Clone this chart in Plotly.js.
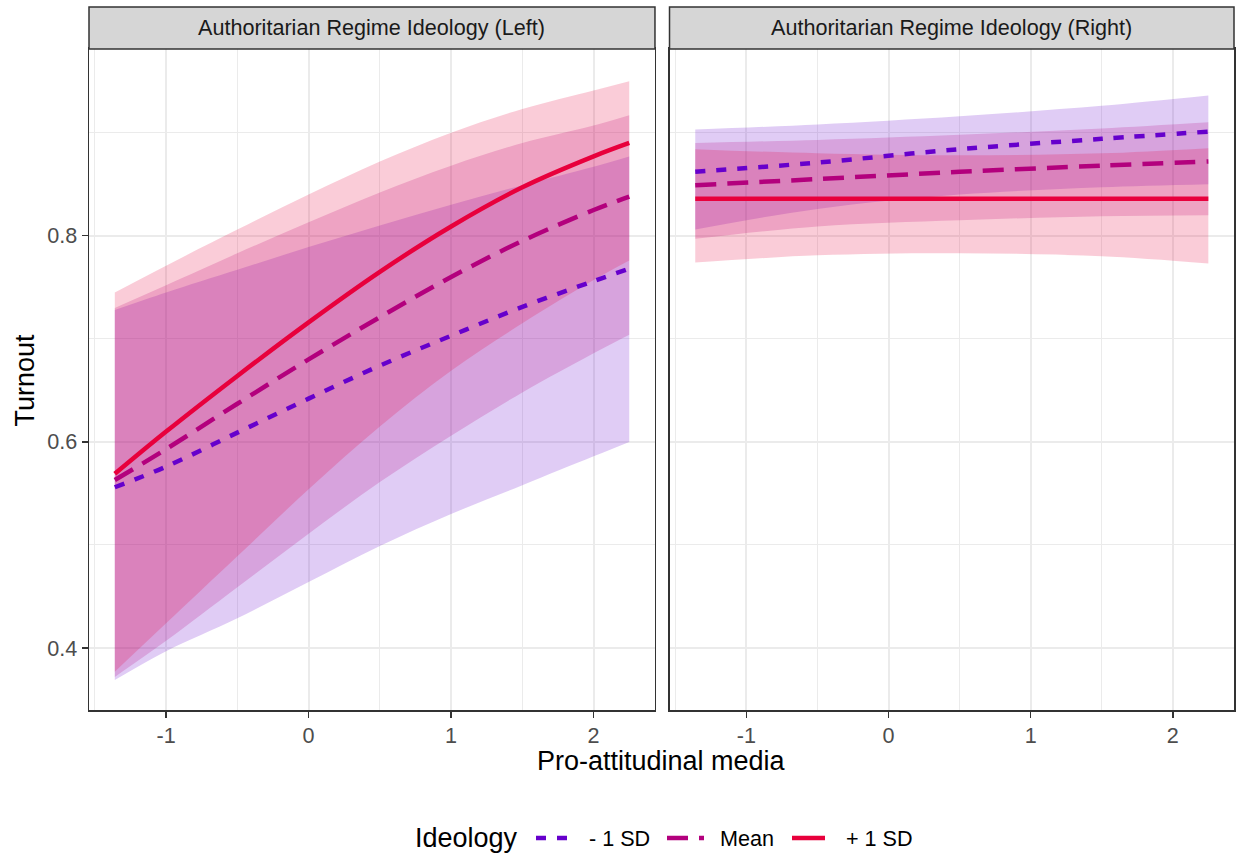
<!DOCTYPE html>
<html>
<head>
<meta charset="utf-8">
<script src="https://cdn.plot.ly/plotly-3.0.1.min.js"></script>
<style>html,body{margin:0;padding:0;background:#fff;}#chart{width:1238px;height:856px;}</style>
</head>
<body>
<div id="chart"></div>
<script>
// ---------- Data ----------
const panelTitles = ["Authoritarian Regime Ideology (Left)", "Authoritarian Regime Ideology (Right)"];
const legendTitle = "Ideology";
const groupNames = ["- 1 SD", "Mean", "+ 1 SD"];
const xTickVals = [-1, 0, 1, 2];
const yTickVals = [0.4, 0.6, 0.8];

// Left panel
const xLeft = [-1.36, -1, -0.5, 0, 0.5, 1, 1.5, 2, 2.25];
const leftLowFit   = [0.556, 0.576, 0.609, 0.642, 0.674, 0.703, 0.731, 0.756, 0.768];
const leftLowUpper = [0.728, 0.745, 0.767, 0.789, 0.810, 0.830, 0.849, 0.867, 0.877];
const leftLowLower = [0.369, 0.397, 0.429, 0.464, 0.499, 0.530, 0.558, 0.586, 0.600];
const leftMeanFit   = [0.563, 0.593, 0.637, 0.680, 0.721, 0.760, 0.795, 0.825, 0.838];
const leftMeanUpper = [0.730, 0.752, 0.783, 0.813, 0.842, 0.868, 0.890, 0.907, 0.917];
const leftMeanLower = [0.372, 0.407, 0.459, 0.511, 0.561, 0.606, 0.648, 0.686, 0.704];
const leftHighFit   = [0.569, 0.610, 0.664, 0.716, 0.765, 0.809, 0.847, 0.877, 0.890];
const leftHighUpper = [0.745, 0.771, 0.806, 0.840, 0.872, 0.900, 0.923, 0.941, 0.950];
const leftHighLower = [0.377, 0.424, 0.489, 0.554, 0.615, 0.669, 0.715, 0.757, 0.776];

// Right panel
const xRight = [-1.36, -0.5, 0.5, 1.5, 2.25];
const rightLowFit   = [0.862, 0.871, 0.884, 0.894, 0.901];
const rightLowUpper = [0.903, 0.908, 0.916, 0.926, 0.936];
const rightLowLower = [0.806, 0.826, 0.840, 0.847, 0.850];
const rightMeanFit   = [0.849, 0.855, 0.862, 0.868, 0.872];
const rightMeanUpper = [0.890, 0.893, 0.898, 0.904, 0.910];
const rightMeanLower = [0.797, 0.809, 0.815, 0.819, 0.820];
const rightHighFit   = [0.836, 0.836, 0.836, 0.836, 0.836];
const rightHighUpper = [0.884, 0.880, 0.878, 0.880, 0.885];
const rightHighLower = [0.774, 0.781, 0.783, 0.780, 0.773];

// ---------- Styles ----------
const lineColors = ["#6600CC", "#B3007D", "#E8003C"];
const fillColors = ["rgba(102,0,204,0.2)", "rgba(179,0,125,0.2)", "rgba(232,0,60,0.2)"];
const dashes = ["10px,11px", "21px,11px", "solid"];

const panels = [
  {x: xLeft, xa: "x", ya: "y",
   fit: [leftLowFit, leftMeanFit, leftHighFit],
   up: [leftLowUpper, leftMeanUpper, leftHighUpper],
   lo: [leftLowLower, leftMeanLower, leftHighLower]},
  {x: xRight, xa: "x2", ya: "y2",
   fit: [rightLowFit, rightMeanFit, rightHighFit],
   up: [rightLowUpper, rightMeanUpper, rightHighUpper],
   lo: [rightLowLower, rightMeanLower, rightHighLower]}
];

const traces = [];
panels.forEach((p) => {
  for (let g = 0; g < 3; g++) {
    traces.push({x: p.x, y: p.lo[g], xaxis: p.xa, yaxis: p.ya, type: "scatter", mode: "lines",
      line: {width: 0, shape: "spline", smoothing: 1, color: fillColors[g]}, showlegend: false, hoverinfo: "skip"});
    traces.push({x: p.x, y: p.up[g], xaxis: p.xa, yaxis: p.ya, type: "scatter", mode: "lines",
      fill: "tonexty", fillcolor: fillColors[g],
      line: {width: 0, shape: "spline", smoothing: 1, color: fillColors[g]}, showlegend: false, hoverinfo: "skip"});
  }
});
panels.forEach((p) => {
  for (let g = 0; g < 3; g++) {
    traces.push({x: p.x, y: p.fit[g], xaxis: p.xa, yaxis: p.ya, type: "scatter", mode: "lines",
      name: groupNames[g], showlegend: false,
      line: {width: 4.5, shape: "spline", smoothing: 1, color: lineColors[g], dash: dashes[g]}});
  }
});

const yRange = [0.3399, 0.9812];
const xRange = [-1.541, 2.4305];
const yTop = 0.9403;
const dL = [0, 0.4943], dR = [0.507, 1];
const FONT = "Liberation Sans, Arial, sans-serif";

// page-pixel helpers for the legend (plot area: left 89, width 1145, bottom 710, height 703)
const px2x = (px) => (px - 89) / 1145;
const py2y = (py) => (710 - py) / 703;

const axCommon = {
  range: xRange, tickvals: xTickVals, ticktext: xTickVals.map(String),
  showgrid: true, gridcolor: "#EBEBEB", gridwidth: 2,
  minor: {dtick: 0.5, tick0: 0, showgrid: true, gridcolor: "#EBEBEB", gridwidth: 1, ticks: ""},
  showline: true, mirror: true, linecolor: "#333333", linewidth: 1.5,
  ticks: "outside", ticklen: 6, tickwidth: 1.5, tickcolor: "#333333",
  tickfont: {family: FONT, size: 21.6, color: "#4D4D4D"},
  zeroline: false, fixedrange: true
};
const ayCommon = {
  range: yRange, tickvals: yTickVals, ticktext: ["0.4", "0.6", "0.8"],
  showgrid: true, gridcolor: "#EBEBEB", gridwidth: 2,
  minor: {dtick: 0.1, tick0: 0, showgrid: true, gridcolor: "#EBEBEB", gridwidth: 1, ticks: ""},
  showline: true, mirror: true, linecolor: "#333333", linewidth: 1.5,
  ticks: "outside", ticklen: 6, tickwidth: 1.5, tickcolor: "#333333",
  tickfont: {family: FONT, size: 21.6, color: "#4D4D4D"},
  zeroline: false, fixedrange: true, domain: [0, yTop]
};

const shapes = [
  {type: "rect", xref: "paper", yref: "paper", x0: dL[0], x1: dL[1], y0: yTop, y1: 1,
   fillcolor: "#D6D6D6", line: {color: "#333333", width: 1.5}},
  {type: "rect", xref: "paper", yref: "paper", x0: dR[0], x1: dR[1], y0: yTop, y1: 1,
   fillcolor: "#D6D6D6", line: {color: "#333333", width: 1.5}}
];
const annotations = [
  {text: panelTitles[0], xref: "paper", yref: "paper", x: (dL[0] + dL[1]) / 2, y: (yTop + 1) / 2,
   xanchor: "center", yanchor: "middle", showarrow: false, font: {size: 21.6, color: "#1A1A1A"}},
  {text: panelTitles[1], xref: "paper", yref: "paper", x: (dR[0] + dR[1]) / 2, y: (yTop + 1) / 2,
   xanchor: "center", yanchor: "middle", showarrow: false, font: {size: 21.6, color: "#1A1A1A"}},
  {text: "Pro-attitudinal media", xref: "paper", yref: "paper", x: 0.5004, y: -0.0725,
   xanchor: "center", yanchor: "middle", showarrow: false, font: {size: 27, color: "#000000"}},
  {text: "Turnout", xref: "paper", yref: "paper", x: -0.0559, y: 0.47, textangle: -90,
   xanchor: "center", yanchor: "middle", showarrow: false, font: {size: 27, color: "#000000"}}
];

// Legend (drawn in page pixels, ggplot-style bottom legend)
const legY = py2y(838);
annotations.push({text: legendTitle, xref: "paper", yref: "paper", x: px2x(413), y: legY,
  xanchor: "left", yanchor: "middle", showarrow: false, font: {size: 27, color: "#000000"}});
const keyStarts = [536, 667, 792];
const keyEnds = [568, 704, 825];
const labelStarts = [587, 718, 844];
for (let g = 0; g < 3; g++) {
  shapes.push({type: "line", xref: "paper", yref: "paper", x0: px2x(keyStarts[g]), x1: px2x(keyEnds[g]),
    y0: legY, y1: legY, line: {color: lineColors[g], width: 4.5, dash: dashes[g]}});
  annotations.push({text: groupNames[g], xref: "paper", yref: "paper", x: px2x(labelStarts[g]), y: legY,
    xanchor: "left", yanchor: "middle", showarrow: false, font: {size: 21.6, color: "#000000"}});
}

const layout = {
  width: 1238, height: 856,
  margin: {l: 89, r: 4, t: 7, b: 146, autoexpand: false},
  paper_bgcolor: "#FFFFFF", plot_bgcolor: "#FFFFFF",
  font: {family: FONT, color: "#000000"},
  xaxis: Object.assign({}, axCommon, {domain: dL, anchor: "y"}),
  xaxis2: Object.assign({}, axCommon, {domain: dR, anchor: "y2"}),
  yaxis: Object.assign({}, ayCommon, {anchor: "x"}),
  yaxis2: Object.assign({}, ayCommon, {anchor: "x2", showticklabels: false, ticks: ""}),
  shapes: shapes,
  annotations: annotations,
  showlegend: false
};

Plotly.newPlot("chart", traces, layout, {displayModeBar: false, staticPlot: true});
</script>
</body>
</html>
